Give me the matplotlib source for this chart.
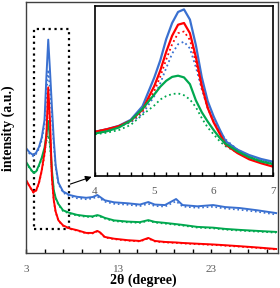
import matplotlib
matplotlib.use("Agg")
import matplotlib.pyplot as plt
from matplotlib.patches import Rectangle
import numpy as np

plt.rcParams['font.family'] = ['Liberation Serif', 'DejaVu Serif']

# --- основной график (2θ от 3 до 30) ---
x_main = [3.0, 3.4, 3.8, 4.1, 4.4, 4.7, 5.0, 5.2, 5.4, 5.6, 5.8, 6.0, 6.2, 6.5, 7.0, 7.7,
          8.5, 9.5, 10.2, 10.7, 11.0, 11.5, 12.5, 14.0, 15.3, 16.2, 16.9, 18.0, 19.2, 19.9,
          21.5, 23.2, 24.5, 26.1, 28.0, 30.0]
blue_main = [41.8, 40, 39, 40, 42.2, 46, 53, 70, 85, 72, 58, 45, 35, 28, 24.5, 23.1,
             22.4, 22, 22.3, 23.1, 22.3, 21, 20.2, 19.8, 19.3, 20.3, 19.3, 19.1, 21.5, 19.1,
             18.6, 19.1, 18.3, 17.9, 17, 15.9]
blue_main_dot = [41.3, 39.5, 38.5, 39.5, 41.5, 45, 51, 63, 73, 64, 54, 43, 34, 27.5, 24, 22.6,
                 21.8, 21.4, 21.7, 22.5, 21.7, 20.4, 19.6, 19.2, 18.7, 19.6, 18.7, 18.5, 20.6, 18.5,
                 18, 18.4, 17.7, 17.2, 16.4, 15.3]
red_main = [29.1, 26.5, 24.2, 25, 28, 33, 40, 47, 66, 52, 30, 21, 16.5, 13, 11, 9.8,
            9.1, 8, 8, 8.8, 8.2, 6.4, 5.7, 5.1, 4.8, 6.0, 4.8, 4.4, 4.2, 4.0,
            3.7, 3.4, 3.1, 2.7, 2.2, 1.6]
red_main_dot = [29, 26.3, 24, 24.8, 27.7, 32.5, 39, 45, 62, 49, 29, 20.5, 16.2, 12.8, 10.8, 9.6,
                8.9, 7.8, 7.8, 8.6, 8, 6.2, 5.5, 4.9, 4.6, 5.8, 4.6, 4.2, 4.0, 3.8,
                3.5, 3.2, 2.9, 2.5, 2.0, 1.4]
green_main = [36.3, 34, 32, 32.5, 35, 38, 42, 47, 52.6, 45, 33, 25, 22, 19.5, 17, 16,
              15.2, 14.7, 14.6, 15.1, 14.8, 14, 13, 12.5, 12.3, 13.1, 12.4, 12, 11.5, 11.2,
              10.4, 10.1, 9.6, 9.2, 8.8, 8.4]
green_main_dot = [36, 33.7, 31.7, 32.2, 34.6, 37.4, 41, 44.5, 47, 42, 32, 24.6, 21.7, 19.2, 16.7, 15.7,
                  14.9, 14.4, 14.3, 14.8, 14.5, 13.7, 12.7, 12.2, 12, 12.8, 12.1, 11.7, 11.2, 10.9,
                  10.1, 9.8, 9.3, 8.9, 8.5, 8.1]

# --- вставка (2θ от 4 до 7) ---
x_ins = [4.0, 4.2, 4.4, 4.6, 4.8, 5.0, 5.1, 5.2, 5.3, 5.4, 5.5, 5.6, 5.7, 5.8, 5.9, 6.0,
         6.1, 6.2, 6.4, 6.6, 6.8, 7.0]
blue_ins = [26, 27.5, 29.5, 33, 41, 58, 68, 80.5, 90, 96.5, 98, 92, 77, 58, 44, 35,
            27.5, 20.5, 15.5, 12.3, 10, 8.4]
blue_ins_dot = [26, 27.3, 29, 31.5, 36.5, 47, 54.5, 63.5, 72, 77.5, 79, 75, 64, 51, 40, 32.5,
                26.5, 21.5, 15.5, 11.8, 9.6, 7.8]
red_ins = [26, 27.5, 29.3, 32.5, 39, 53, 62, 73, 82.5, 89, 90, 84, 70, 53, 40, 31.5,
           25, 18.5, 13.5, 9.8, 7.5, 5.5]
red_ins_dot = [26, 27.5, 29.3, 32, 38, 50, 58.5, 68.5, 77.5, 84, 85, 80, 67, 52, 40, 32,
               26, 20, 14.5, 10.5, 8.2, 6.3]
green_ins = [25, 26.3, 28.5, 32.5, 39.5, 48, 52.5, 56, 58.3, 59, 58, 54, 44.5, 37.5, 32, 27,
             22.5, 19, 14.5, 11, 8.5, 7]
green_ins_dot = [24.5, 25.5, 27, 30, 36, 41.5, 45, 47, 48.2, 48.6, 47.5, 45, 40.5, 34, 28.5, 24.5,
                 20.5, 17.5, 13.8, 11.2, 9, 7.4]

c_blue = '#3A70D0'
c_red = '#FF0000'
c_green = '#00A84F'
c_tick = '#595959'

fig = plt.figure(figsize=(2.8, 2.88), dpi=100)
ax = fig.add_axes([26/280, 1-253/288, 252/280, 251/288])

for y, c in [(blue_main_dot, c_blue), (red_main_dot, c_red), (green_main_dot, c_green)]:
    ax.plot(x_main, y, color=c, lw=1.2, ls=':')
for y, c in [(blue_main, c_blue), (green_main, c_green), (red_main, c_red)]:
    ax.plot(x_main, y, color=c, lw=1.4)

ax.set_xlim(3, 30.2)
ax.set_ylim(0, 100)
ax.set_yticks([])
ax.set_xticks([3, 13, 23])
ax.set_xticks(np.arange(5, 31, 2), minor=True)
ax.tick_params(axis='x', which='both', direction='in', length=3, width=1, labelsize=8,
               labelcolor=c_tick, pad=9)
for s in ax.spines.values():
    s.set_color('#404040')
    s.set_linewidth(1)

# пунктирная рамка вокруг пика и стрелка
ax.add_patch(Rectangle((3.86, 9.6), 3.78, 79.6, fill=False, ls=':', lw=1.6, ec='black'))
ax.annotate('', xy=(10.37, 30.7), xytext=(7.5, 27.1),
            arrowprops=dict(arrowstyle='-|>', color='black', lw=0.8, mutation_scale=9))

fig.text(143/280, 1-280/288, '2θ (degree)', ha='center', va='center',
         fontsize=10, fontweight='bold')
fig.text(8/280, 1-128/288, 'intensity (a.u.)', ha='center', va='center',
         rotation=90, fontsize=10, fontweight='bold')

ins = fig.add_axes([95/280, 1-176/288, 178/280, 170/288])
for y, c in [(blue_ins_dot, c_blue), (red_ins_dot, c_red), (green_ins_dot, c_green)]:
    ins.plot(x_ins, y, color=c, lw=1.3, ls=':')
for y, c in [(blue_ins, c_blue), (red_ins, c_red), (green_ins, c_green)]:
    ins.plot(x_ins, y, color=c, lw=1.6)
ins.set_xlim(4, 7)
ins.set_ylim(0, 100)
ins.set_yticks([])
ins.set_xticks([4, 5, 6, 7])
ins.set_xticks(np.arange(4, 7.01, 0.2), minor=True)
ins.tick_params(axis='x', which='both', direction='in', length=3, width=1, labelsize=8,
                labelcolor=c_tick, pad=8)
for s in ins.spines.values():
    s.set_color('black')
    s.set_linewidth(1.2)

fig.savefig('out.png', dpi=100)
